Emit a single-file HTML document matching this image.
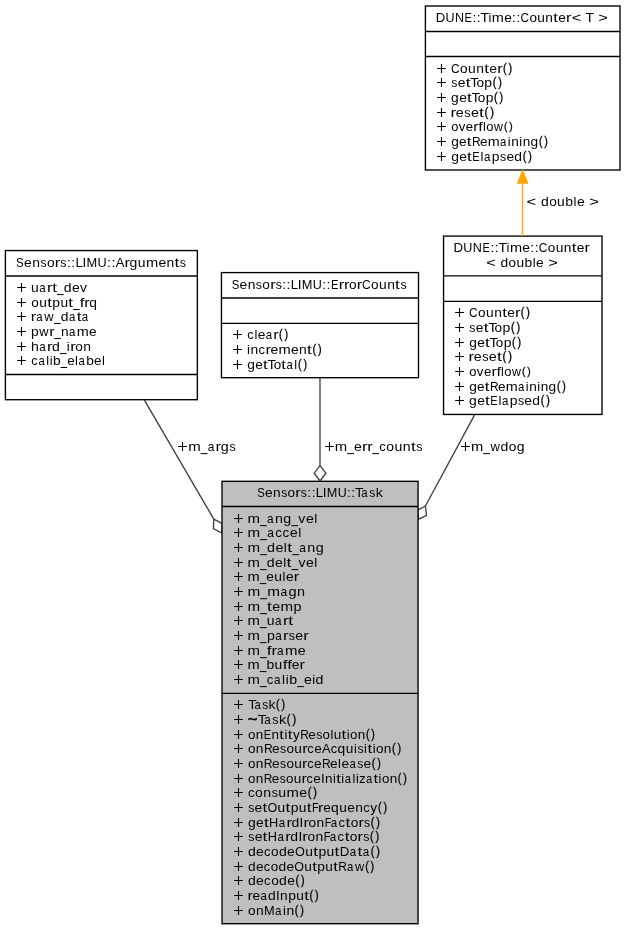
<!DOCTYPE html>
<html><head><meta charset="utf-8">
<style>
html,body{margin:0;padding:0;background:#fff;}
body{width:625px;height:931px;overflow:hidden;}
svg{display:block;will-change:transform;}
text{font-family:"Liberation Sans",sans-serif;font-size:13.2px;fill:#000;}
text.b{stroke:#000;stroke-width:0.35px;}
</style></head>
<body>
<svg width="625" height="931" viewBox="0 0 625 931">
<rect x="0" y="0" width="625" height="931" fill="#fff"/>
<polyline points="144.4,400.2 213.8,519.1" fill="none" stroke="#404040" stroke-width="1.35"/>
<polygon points="213.8,519.1 222.1,523.5 221.7,533 213.4,528.5" fill="#fff" stroke="#404040" stroke-width="1.35"/>
<line x1="320" y1="377.7" x2="320" y2="465.6" stroke="#404040" stroke-width="1.35"/>
<polygon points="320,465.6 325.9,473.2 320,481 314.2,473.2" fill="#fff" stroke="#404040" stroke-width="1.35"/>
<polyline points="474.6,414.9 425.4,506" fill="none" stroke="#404040" stroke-width="1.35"/>
<polygon points="425.4,506 426.5,515.3 418.3,519.4 417.9,510" fill="#fff" stroke="#404040" stroke-width="1.35"/>
<rect x="425.40" y="6.00" width="194.60" height="164.00" fill="#ffffff" stroke="#000" stroke-width="1.35"/>
<line x1="425.40" y1="31.50" x2="620.00" y2="31.50" stroke="#000" stroke-width="1.35"/>
<line x1="425.40" y1="56.50" x2="620.00" y2="56.50" stroke="#000" stroke-width="1.35"/>
<rect x="5.40" y="250.55" width="191.95" height="149.15" fill="#ffffff" stroke="#000" stroke-width="1.35"/>
<line x1="5.40" y1="276.00" x2="197.35" y2="276.00" stroke="#000" stroke-width="1.35"/>
<line x1="5.40" y1="374.50" x2="197.35" y2="374.50" stroke="#000" stroke-width="1.35"/>
<rect x="221.45" y="272.60" width="197.05" height="105.10" fill="#ffffff" stroke="#000" stroke-width="1.35"/>
<line x1="221.45" y1="298.00" x2="418.50" y2="298.00" stroke="#000" stroke-width="1.35"/>
<line x1="221.45" y1="323.30" x2="418.50" y2="323.30" stroke="#000" stroke-width="1.35"/>
<rect x="443.55" y="236.10" width="158.45" height="178.35" fill="#ffffff" stroke="#000" stroke-width="1.35"/>
<line x1="443.55" y1="275.80" x2="602.00" y2="275.80" stroke="#000" stroke-width="1.35"/>
<line x1="443.55" y1="301.35" x2="602.00" y2="301.35" stroke="#000" stroke-width="1.35"/>
<rect x="222.00" y="481.30" width="196.05" height="442.40" fill="#bfbfbf" stroke="#000" stroke-width="1.35"/>
<line x1="222.00" y1="506.50" x2="418.05" y2="506.50" stroke="#000" stroke-width="1.35"/>
<line x1="222.00" y1="693.35" x2="418.05" y2="693.35" stroke="#000" stroke-width="1.35"/>
<line x1="522.5" y1="236.1" x2="522.5" y2="183.4" stroke="#ffa500" stroke-width="1.35"/>
<polygon points="517.1,183.6 528.1,183.6 522.6,169.4" fill="#ffa500" stroke="#ffa500" stroke-width="0.5"/>
<text transform="translate(440.69,22.00) scale(0.996,1.000)" x="-4.99">D</text>
<text transform="translate(449.99,22.00) scale(0.946,1.000)" x="-4.77">U</text>
<text transform="translate(459.40,22.00) scale(0.951,1.000)" x="-4.77">N</text>
<text transform="translate(468.38,22.00) scale(0.834,1.000)" x="-4.66">E</text>
<text transform="translate(474.32,22.00) scale(1.042,1.000)" x="-1.83">:</text>
<text transform="translate(478.61,22.00) scale(1.042,1.000)" x="-1.83">:</text>
<text transform="translate(484.63,22.00) scale(1.050,1.000)" x="-4.03">T</text>
<text transform="translate(489.89,22.00) scale(0.984,1.000)" x="-1.46">i</text>
<text transform="translate(497.88,22.00) scale(1.097,1.000)" x="-5.50">m</text>
<text transform="translate(507.95,22.00) scale(1.040,1.000)" x="-3.66">e</text>
<text transform="translate(513.99,22.00) scale(1.042,1.000)" x="-1.83">:</text>
<text transform="translate(518.28,22.00) scale(1.042,1.000)" x="-1.83">:</text>
<text transform="translate(524.86,22.00) scale(0.894,1.000)" x="-4.85">C</text>
<text transform="translate(533.18,22.00) scale(1.024,1.000)" x="-3.67">o</text>
<text transform="translate(541.05,22.00) scale(1.038,1.000)" x="-3.66">u</text>
<text transform="translate(549.18,22.00) scale(1.038,1.000)" x="-3.68">n</text>
<text transform="translate(555.69,22.00) scale(1.287,1.000)" x="-1.89">t</text>
<text transform="translate(562.08,22.00) scale(1.040,1.000)" x="-3.66">e</text>
<text transform="translate(569.17,22.00) scale(1.234,1.000)" x="-2.53">r</text>
<text transform="translate(576.53,22.00) scale(1.241,1.000)" x="-3.86">&lt;</text>
<text transform="translate(589.78,22.00) scale(1.050,1.000)" x="-4.03">T</text>
<text transform="translate(603.02,22.00) scale(1.241,1.000)" x="-3.86">&gt;</text>
<text transform="translate(455.49,73.00) scale(0.906,1.000)" x="-4.85">C</text>
<text transform="translate(463.92,73.00) scale(1.037,1.000)" x="-3.67">o</text>
<text transform="translate(471.90,73.00) scale(1.052,1.000)" x="-3.66">u</text>
<text transform="translate(480.14,73.00) scale(1.052,1.000)" x="-3.68">n</text>
<text transform="translate(486.73,73.00) scale(1.304,1.000)" x="-1.89">t</text>
<text transform="translate(493.21,73.00) scale(1.054,1.000)" x="-3.66">e</text>
<text transform="translate(500.39,73.00) scale(1.250,1.000)" x="-2.53">r</text>
<text class="b" transform="translate(505.01,72.15) scale(0.825,0.933)" x="-2.57">(</text>
<text class="b" transform="translate(509.96,72.15) scale(0.825,0.933)" x="-1.83">)</text>
<text transform="translate(454.38,87.00) scale(0.930,1.000)" x="-3.25">s</text>
<text transform="translate(461.63,87.00) scale(1.048,1.000)" x="-3.66">e</text>
<text transform="translate(468.09,87.00) scale(1.297,1.000)" x="-1.89">t</text>
<text transform="translate(474.50,87.00) scale(1.059,1.000)" x="-4.03">T</text>
<text transform="translate(480.16,87.00) scale(1.032,1.000)" x="-3.67">o</text>
<text transform="translate(488.37,87.00) scale(1.056,1.000)" x="-3.82">p</text>
<text class="b" transform="translate(494.74,86.15) scale(0.820,0.928)" x="-2.57">(</text>
<text class="b" transform="translate(499.66,86.15) scale(0.820,0.928)" x="-1.83">)</text>
<text transform="translate(454.82,102.00) scale(1.052,1.000)" x="-3.52">g</text>
<text transform="translate(463.05,102.00) scale(1.045,1.000)" x="-3.66">e</text>
<text transform="translate(469.49,102.00) scale(1.293,1.000)" x="-1.89">t</text>
<text transform="translate(475.87,102.00) scale(1.056,1.000)" x="-4.03">T</text>
<text transform="translate(481.52,102.00) scale(1.029,1.000)" x="-3.67">o</text>
<text transform="translate(489.71,102.00) scale(1.053,1.000)" x="-3.82">p</text>
<text class="b" transform="translate(496.06,101.16) scale(0.818,0.925)" x="-2.57">(</text>
<text class="b" transform="translate(500.97,101.16) scale(0.818,0.925)" x="-1.83">)</text>
<text transform="translate(453.83,117.00) scale(1.291,1.000)" x="-2.53">r</text>
<text transform="translate(459.77,117.00) scale(1.088,1.000)" x="-3.66">e</text>
<text transform="translate(467.35,117.00) scale(0.966,1.000)" x="-3.25">s</text>
<text transform="translate(474.88,117.00) scale(1.088,1.000)" x="-3.66">e</text>
<text transform="translate(481.58,117.00) scale(1.346,1.000)" x="-1.89">t</text>
<text class="b" transform="translate(486.80,116.12) scale(0.851,0.963)" x="-2.57">(</text>
<text class="b" transform="translate(491.91,116.12) scale(0.851,0.963)" x="-1.83">)</text>
<text transform="translate(454.77,131.00) scale(0.985,1.000)" x="-3.67">o</text>
<text transform="translate(462.13,131.00) scale(1.000,1.000)" x="-3.30">v</text>
<text transform="translate(469.53,131.00) scale(1.001,1.000)" x="-3.66">e</text>
<text transform="translate(476.35,131.00) scale(1.188,1.000)" x="-2.53">r</text>
<text transform="translate(480.72,131.00) scale(1.217,1.000)" x="-1.94">f</text>
<text transform="translate(484.32,131.00) scale(0.947,1.000)" x="-1.47">l</text>
<text transform="translate(489.76,131.00) scale(0.985,1.000)" x="-3.67">o</text>
<text transform="translate(498.50,131.00) scale(0.937,1.000)" x="-4.77">w</text>
<text class="b" transform="translate(505.93,130.19) scale(0.783,0.886)" x="-2.57">(</text>
<text class="b" transform="translate(510.63,130.19) scale(0.783,0.886)" x="-1.83">)</text>
<text transform="translate(454.77,146.00) scale(1.036,1.000)" x="-3.52">g</text>
<text transform="translate(462.87,146.00) scale(1.029,1.000)" x="-3.66">e</text>
<text transform="translate(469.22,146.00) scale(1.274,1.000)" x="-1.89">t</text>
<text transform="translate(476.47,146.00) scale(0.912,1.000)" x="-5.00">R</text>
<text transform="translate(483.72,146.00) scale(1.029,1.000)" x="-3.66">e</text>
<text transform="translate(493.74,146.00) scale(1.086,1.000)" x="-5.50">m</text>
<text transform="translate(503.49,146.00) scale(0.857,1.000)" x="-3.95">a</text>
<text transform="translate(509.29,146.00) scale(0.974,1.000)" x="-1.46">i</text>
<text transform="translate(515.06,146.00) scale(1.028,1.000)" x="-3.68">n</text>
<text transform="translate(520.76,146.00) scale(0.974,1.000)" x="-1.46">i</text>
<text transform="translate(526.53,146.00) scale(1.028,1.000)" x="-3.68">n</text>
<text transform="translate(534.25,146.00) scale(1.036,1.000)" x="-3.52">g</text>
<text class="b" transform="translate(540.96,145.17) scale(0.806,0.911)" x="-2.57">(</text>
<text class="b" transform="translate(545.79,145.17) scale(0.806,0.911)" x="-1.83">)</text>
<text transform="translate(454.83,161.00) scale(1.054,1.000)" x="-3.52">g</text>
<text transform="translate(463.07,161.00) scale(1.048,1.000)" x="-3.66">e</text>
<text transform="translate(469.53,161.00) scale(1.296,1.000)" x="-1.89">t</text>
<text transform="translate(476.28,161.00) scale(0.841,1.000)" x="-4.66">E</text>
<text transform="translate(481.89,161.00) scale(0.991,1.000)" x="-1.47">l</text>
<text transform="translate(487.39,161.00) scale(0.872,1.000)" x="-3.95">a</text>
<text transform="translate(495.80,161.00) scale(1.055,1.000)" x="-3.82">p</text>
<text transform="translate(503.01,161.00) scale(0.930,1.000)" x="-3.25">s</text>
<text transform="translate(510.26,161.00) scale(1.048,1.000)" x="-3.66">e</text>
<text transform="translate(518.02,161.00) scale(1.054,1.000)" x="-3.52">d</text>
<text class="b" transform="translate(524.85,160.15) scale(0.820,0.927)" x="-2.57">(</text>
<text class="b" transform="translate(529.77,160.15) scale(0.820,0.927)" x="-1.83">)</text>
<text transform="translate(19.91,267.00) scale(0.871,1.000)" x="-4.40">S</text>
<text transform="translate(27.91,267.00) scale(1.055,1.000)" x="-3.66">e</text>
<text transform="translate(35.99,267.00) scale(1.053,1.000)" x="-3.68">n</text>
<text transform="translate(43.42,267.00) scale(0.936,1.000)" x="-3.25">s</text>
<text transform="translate(50.69,267.00) scale(1.038,1.000)" x="-3.67">o</text>
<text transform="translate(57.87,267.00) scale(1.251,1.000)" x="-2.53">r</text>
<text transform="translate(63.33,267.00) scale(0.936,1.000)" x="-3.25">s</text>
<text transform="translate(68.82,267.00) scale(1.057,1.000)" x="-1.83">:</text>
<text transform="translate(73.17,267.00) scale(1.057,1.000)" x="-1.83">:</text>
<text transform="translate(79.52,267.00) scale(1.005,1.000)" x="-3.99">L</text>
<text transform="translate(84.42,267.00) scale(1.033,1.000)" x="-1.83">I</text>
<text transform="translate(91.88,267.00) scale(0.974,1.000)" x="-5.50">M</text>
<text transform="translate(102.16,267.00) scale(0.960,1.000)" x="-4.77">U</text>
<text transform="translate(109.05,267.00) scale(1.057,1.000)" x="-1.83">:</text>
<text transform="translate(113.39,267.00) scale(1.057,1.000)" x="-1.83">:</text>
<text transform="translate(119.97,267.00) scale(0.984,1.000)" x="-4.40">A</text>
<text transform="translate(127.61,267.00) scale(1.251,1.000)" x="-2.53">r</text>
<text transform="translate(133.31,267.00) scale(1.061,1.000)" x="-3.52">g</text>
<text transform="translate(141.68,267.00) scale(1.053,1.000)" x="-3.66">u</text>
<text transform="translate(152.12,267.00) scale(1.113,1.000)" x="-5.50">m</text>
<text transform="translate(162.34,267.00) scale(1.055,1.000)" x="-3.66">e</text>
<text transform="translate(170.41,267.00) scale(1.053,1.000)" x="-3.68">n</text>
<text transform="translate(177.01,267.00) scale(1.305,1.000)" x="-1.89">t</text>
<text transform="translate(182.91,267.00) scale(0.936,1.000)" x="-3.25">s</text>
<text transform="translate(34.84,292.00) scale(1.050,1.000)" x="-3.66">u</text>
<text transform="translate(42.70,292.00) scale(0.876,1.000)" x="-3.95">a</text>
<text transform="translate(50.07,292.00) scale(1.248,1.000)" x="-2.53">r</text>
<text transform="translate(54.67,292.00) scale(1.302,1.000)" x="-1.89">t</text>
<text transform="translate(67.45,292.00) scale(1.059,1.000)" x="-3.52">d</text>
<text transform="translate(75.73,292.00) scale(1.052,1.000)" x="-3.66">e</text>
<text transform="translate(83.48,292.00) scale(1.051,1.000)" x="-3.30">v</text>
<text transform="translate(35.10,307.00) scale(1.027,1.000)" x="-3.67">o</text>
<text transform="translate(43.01,307.00) scale(1.042,1.000)" x="-3.66">u</text>
<text transform="translate(49.61,307.00) scale(1.292,1.000)" x="-1.89">t</text>
<text transform="translate(56.37,307.00) scale(1.051,1.000)" x="-3.82">p</text>
<text transform="translate(64.19,307.00) scale(1.042,1.000)" x="-3.66">u</text>
<text transform="translate(70.79,307.00) scale(1.292,1.000)" x="-1.89">t</text>
<text transform="translate(82.16,307.00) scale(1.269,1.000)" x="-1.94">f</text>
<text transform="translate(87.34,307.00) scale(1.238,1.000)" x="-2.53">r</text>
<text transform="translate(92.98,307.00) scale(1.049,1.000)" x="-3.53">q</text>
<text transform="translate(33.94,321.00) scale(1.238,1.000)" x="-2.53">r</text>
<text transform="translate(39.70,321.00) scale(0.869,1.000)" x="-3.95">a</text>
<text transform="translate(49.02,321.00) scale(0.977,1.000)" x="-4.77">w</text>
<text transform="translate(64.44,321.00) scale(1.051,1.000)" x="-3.52">d</text>
<text transform="translate(72.43,321.00) scale(0.869,1.000)" x="-3.95">a</text>
<text transform="translate(79.06,321.00) scale(1.292,1.000)" x="-1.89">t</text>
<text transform="translate(85.25,321.00) scale(0.869,1.000)" x="-3.95">a</text>
<text transform="translate(35.01,336.00) scale(1.047,1.000)" x="-3.82">p</text>
<text transform="translate(44.00,336.00) scale(0.972,1.000)" x="-4.77">w</text>
<text transform="translate(52.38,336.00) scale(1.233,1.000)" x="-2.53">r</text>
<text transform="translate(64.82,336.00) scale(1.037,1.000)" x="-3.68">n</text>
<text transform="translate(72.51,336.00) scale(0.865,1.000)" x="-3.95">a</text>
<text transform="translate(82.82,336.00) scale(1.096,1.000)" x="-5.50">m</text>
<text transform="translate(92.88,336.00) scale(1.039,1.000)" x="-3.66">e</text>
<text transform="translate(34.85,351.00) scale(1.061,1.000)" x="-3.70">h</text>
<text transform="translate(42.66,351.00) scale(0.879,1.000)" x="-3.95">a</text>
<text transform="translate(50.05,351.00) scale(1.252,1.000)" x="-2.53">r</text>
<text transform="translate(55.75,351.00) scale(1.062,1.000)" x="-3.52">d</text>
<text transform="translate(68.32,351.00) scale(0.999,1.000)" x="-1.46">i</text>
<text transform="translate(73.35,351.00) scale(1.252,1.000)" x="-2.53">r</text>
<text transform="translate(79.08,351.00) scale(1.039,1.000)" x="-3.67">o</text>
<text transform="translate(87.15,351.00) scale(1.054,1.000)" x="-3.68">n</text>
<text transform="translate(34.62,365.00) scale(0.955,1.000)" x="-3.41">c</text>
<text transform="translate(41.77,365.00) scale(0.856,1.000)" x="-3.95">a</text>
<text transform="translate(47.56,365.00) scale(0.973,1.000)" x="-1.47">l</text>
<text transform="translate(51.06,365.00) scale(0.973,1.000)" x="-1.46">i</text>
<text transform="translate(57.01,365.00) scale(1.036,1.000)" x="-3.82">b</text>
<text transform="translate(70.93,365.00) scale(1.028,1.000)" x="-3.66">e</text>
<text transform="translate(76.54,365.00) scale(0.973,1.000)" x="-1.47">l</text>
<text transform="translate(81.94,365.00) scale(0.856,1.000)" x="-3.95">a</text>
<text transform="translate(90.19,365.00) scale(1.036,1.000)" x="-3.82">b</text>
<text transform="translate(97.83,365.00) scale(1.028,1.000)" x="-3.66">e</text>
<text transform="translate(103.44,365.00) scale(0.973,1.000)" x="-1.47">l</text>
<text transform="translate(235.49,289.00) scale(0.866,1.000)" x="-4.40">S</text>
<text transform="translate(243.46,289.00) scale(1.050,1.000)" x="-3.66">e</text>
<text transform="translate(251.49,289.00) scale(1.048,1.000)" x="-3.68">n</text>
<text transform="translate(258.90,289.00) scale(0.932,1.000)" x="-3.25">s</text>
<text transform="translate(266.13,289.00) scale(1.033,1.000)" x="-3.67">o</text>
<text transform="translate(273.27,289.00) scale(1.245,1.000)" x="-2.53">r</text>
<text transform="translate(278.70,289.00) scale(0.932,1.000)" x="-3.25">s</text>
<text transform="translate(284.17,289.00) scale(1.052,1.000)" x="-1.83">:</text>
<text transform="translate(288.49,289.00) scale(1.052,1.000)" x="-1.83">:</text>
<text transform="translate(294.82,289.00) scale(1.000,1.000)" x="-3.99">L</text>
<text transform="translate(299.69,289.00) scale(1.028,1.000)" x="-1.83">I</text>
<text transform="translate(307.12,289.00) scale(0.969,1.000)" x="-5.50">M</text>
<text transform="translate(317.34,289.00) scale(0.955,1.000)" x="-4.77">U</text>
<text transform="translate(324.20,289.00) scale(1.052,1.000)" x="-1.83">:</text>
<text transform="translate(328.52,289.00) scale(1.052,1.000)" x="-1.83">:</text>
<text transform="translate(334.95,289.00) scale(0.842,1.000)" x="-4.66">E</text>
<text transform="translate(342.01,289.00) scale(1.245,1.000)" x="-2.53">r</text>
<text transform="translate(347.05,289.00) scale(1.245,1.000)" x="-2.53">r</text>
<text transform="translate(352.75,289.00) scale(1.033,1.000)" x="-3.67">o</text>
<text transform="translate(359.89,289.00) scale(1.245,1.000)" x="-2.53">r</text>
<text transform="translate(366.44,289.00) scale(0.902,1.000)" x="-4.85">C</text>
<text transform="translate(374.83,289.00) scale(1.033,1.000)" x="-3.67">o</text>
<text transform="translate(382.78,289.00) scale(1.048,1.000)" x="-3.66">u</text>
<text transform="translate(390.99,289.00) scale(1.048,1.000)" x="-3.68">n</text>
<text transform="translate(397.55,289.00) scale(1.299,1.000)" x="-1.89">t</text>
<text transform="translate(403.42,289.00) scale(0.932,1.000)" x="-3.25">s</text>
<text transform="translate(250.55,339.00) scale(0.967,1.000)" x="-3.41">c</text>
<text transform="translate(255.86,339.00) scale(0.985,1.000)" x="-1.47">l</text>
<text transform="translate(261.55,339.00) scale(1.041,1.000)" x="-3.66">e</text>
<text transform="translate(269.15,339.00) scale(0.866,1.000)" x="-3.95">a</text>
<text transform="translate(276.43,339.00) scale(1.234,1.000)" x="-2.53">r</text>
<text class="b" transform="translate(280.99,338.16) scale(0.814,0.921)" x="-2.57">(</text>
<text class="b" transform="translate(285.87,338.16) scale(0.814,0.921)" x="-1.83">)</text>
<text transform="translate(248.38,354.00) scale(0.996,1.000)" x="-1.46">i</text>
<text transform="translate(254.28,354.00) scale(1.051,1.000)" x="-3.68">n</text>
<text transform="translate(261.81,354.00) scale(0.978,1.000)" x="-3.41">c</text>
<text transform="translate(268.62,354.00) scale(1.249,1.000)" x="-2.53">r</text>
<text transform="translate(274.37,354.00) scale(1.053,1.000)" x="-3.66">e</text>
<text transform="translate(284.62,354.00) scale(1.111,1.000)" x="-5.50">m</text>
<text transform="translate(294.82,354.00) scale(1.053,1.000)" x="-3.66">e</text>
<text transform="translate(302.88,354.00) scale(1.051,1.000)" x="-3.68">n</text>
<text transform="translate(309.46,354.00) scale(1.303,1.000)" x="-1.89">t</text>
<text class="b" transform="translate(314.51,353.15) scale(0.824,0.932)" x="-2.57">(</text>
<text class="b" transform="translate(319.46,353.15) scale(0.824,0.932)" x="-1.83">)</text>
<text transform="translate(250.90,369.00) scale(1.043,1.000)" x="-3.52">g</text>
<text transform="translate(259.05,369.00) scale(1.037,1.000)" x="-3.66">e</text>
<text transform="translate(265.44,369.00) scale(1.283,1.000)" x="-1.89">t</text>
<text transform="translate(271.78,369.00) scale(1.047,1.000)" x="-4.03">T</text>
<text transform="translate(277.37,369.00) scale(1.021,1.000)" x="-3.67">o</text>
<text transform="translate(283.75,369.00) scale(1.283,1.000)" x="-1.89">t</text>
<text transform="translate(289.90,369.00) scale(0.863,1.000)" x="-3.95">a</text>
<text transform="translate(295.74,369.00) scale(0.981,1.000)" x="-1.47">l</text>
<text class="b" transform="translate(300.01,368.16) scale(0.811,0.918)" x="-2.57">(</text>
<text class="b" transform="translate(304.88,368.16) scale(0.811,0.918)" x="-1.83">)</text>
<text transform="translate(458.52,252.00) scale(1.002,1.000)" x="-4.99">D</text>
<text transform="translate(467.87,252.00) scale(0.952,1.000)" x="-4.77">U</text>
<text transform="translate(477.33,252.00) scale(0.957,1.000)" x="-4.77">N</text>
<text transform="translate(486.37,252.00) scale(0.839,1.000)" x="-4.66">E</text>
<text transform="translate(492.35,252.00) scale(1.048,1.000)" x="-1.83">:</text>
<text transform="translate(496.65,252.00) scale(1.048,1.000)" x="-1.83">:</text>
<text transform="translate(502.71,252.00) scale(1.056,1.000)" x="-4.03">T</text>
<text transform="translate(508.00,252.00) scale(0.990,1.000)" x="-1.46">i</text>
<text transform="translate(516.04,252.00) scale(1.104,1.000)" x="-5.50">m</text>
<text transform="translate(526.17,252.00) scale(1.046,1.000)" x="-3.66">e</text>
<text transform="translate(532.25,252.00) scale(1.048,1.000)" x="-1.83">:</text>
<text transform="translate(536.56,252.00) scale(1.048,1.000)" x="-1.83">:</text>
<text transform="translate(543.19,252.00) scale(0.899,1.000)" x="-4.85">C</text>
<text transform="translate(551.55,252.00) scale(1.030,1.000)" x="-3.67">o</text>
<text transform="translate(559.47,252.00) scale(1.044,1.000)" x="-3.66">u</text>
<text transform="translate(567.65,252.00) scale(1.044,1.000)" x="-3.68">n</text>
<text transform="translate(574.19,252.00) scale(1.295,1.000)" x="-1.89">t</text>
<text transform="translate(580.62,252.00) scale(1.046,1.000)" x="-3.66">e</text>
<text transform="translate(587.75,252.00) scale(1.241,1.000)" x="-2.53">r</text>
<text transform="translate(490.98,267.00) scale(1.242,1.000)" x="-3.86">&lt;</text>
<text transform="translate(504.17,267.00) scale(1.048,1.000)" x="-3.52">d</text>
<text transform="translate(512.34,267.00) scale(1.025,1.000)" x="-3.67">o</text>
<text transform="translate(520.22,267.00) scale(1.040,1.000)" x="-3.66">u</text>
<text transform="translate(528.56,267.00) scale(1.049,1.000)" x="-3.82">b</text>
<text transform="translate(534.14,267.00) scale(0.986,1.000)" x="-1.47">l</text>
<text transform="translate(539.84,267.00) scale(1.041,1.000)" x="-3.66">e</text>
<text transform="translate(553.12,267.00) scale(1.242,1.000)" x="-3.86">&gt;</text>
<text transform="translate(473.47,317.00) scale(0.903,1.000)" x="-4.85">C</text>
<text transform="translate(481.87,317.00) scale(1.034,1.000)" x="-3.67">o</text>
<text transform="translate(489.83,317.00) scale(1.049,1.000)" x="-3.66">u</text>
<text transform="translate(498.04,317.00) scale(1.049,1.000)" x="-3.68">n</text>
<text transform="translate(504.61,317.00) scale(1.300,1.000)" x="-1.89">t</text>
<text transform="translate(511.07,317.00) scale(1.051,1.000)" x="-3.66">e</text>
<text transform="translate(518.23,317.00) scale(1.246,1.000)" x="-2.53">r</text>
<text class="b" transform="translate(522.83,316.15) scale(0.822,0.930)" x="-2.57">(</text>
<text class="b" transform="translate(527.76,316.15) scale(0.822,0.930)" x="-1.83">)</text>
<text transform="translate(472.40,332.00) scale(0.938,1.000)" x="-3.25">s</text>
<text transform="translate(479.71,332.00) scale(1.057,1.000)" x="-3.66">e</text>
<text transform="translate(486.23,332.00) scale(1.308,1.000)" x="-1.89">t</text>
<text transform="translate(492.68,332.00) scale(1.067,1.000)" x="-4.03">T</text>
<text transform="translate(498.39,332.00) scale(1.040,1.000)" x="-3.67">o</text>
<text transform="translate(506.67,332.00) scale(1.064,1.000)" x="-3.82">p</text>
<text class="b" transform="translate(513.09,331.15) scale(0.827,0.935)" x="-2.57">(</text>
<text class="b" transform="translate(518.05,331.15) scale(0.827,0.935)" x="-1.83">)</text>
<text transform="translate(472.82,347.00) scale(1.050,1.000)" x="-3.52">g</text>
<text transform="translate(481.02,347.00) scale(1.043,1.000)" x="-3.66">e</text>
<text transform="translate(487.45,347.00) scale(1.291,1.000)" x="-1.89">t</text>
<text transform="translate(493.83,347.00) scale(1.053,1.000)" x="-4.03">T</text>
<text transform="translate(499.46,347.00) scale(1.027,1.000)" x="-3.67">o</text>
<text transform="translate(507.63,347.00) scale(1.051,1.000)" x="-3.82">p</text>
<text class="b" transform="translate(513.97,346.16) scale(0.816,0.923)" x="-2.57">(</text>
<text class="b" transform="translate(518.87,346.16) scale(0.816,0.923)" x="-1.83">)</text>
<text transform="translate(471.82,361.00) scale(1.287,1.000)" x="-2.53">r</text>
<text transform="translate(477.75,361.00) scale(1.085,1.000)" x="-3.66">e</text>
<text transform="translate(485.31,361.00) scale(0.963,1.000)" x="-3.25">s</text>
<text transform="translate(492.82,361.00) scale(1.085,1.000)" x="-3.66">e</text>
<text transform="translate(499.51,361.00) scale(1.343,1.000)" x="-1.89">t</text>
<text class="b" transform="translate(504.72,360.12) scale(0.849,0.961)" x="-2.57">(</text>
<text class="b" transform="translate(509.81,360.12) scale(0.849,0.961)" x="-1.83">)</text>
<text transform="translate(472.78,376.00) scale(0.987,1.000)" x="-3.67">o</text>
<text transform="translate(480.15,376.00) scale(1.002,1.000)" x="-3.30">v</text>
<text transform="translate(487.56,376.00) scale(1.003,1.000)" x="-3.66">e</text>
<text transform="translate(494.39,376.00) scale(1.189,1.000)" x="-2.53">r</text>
<text transform="translate(498.77,376.00) scale(1.219,1.000)" x="-1.94">f</text>
<text transform="translate(502.37,376.00) scale(0.949,1.000)" x="-1.47">l</text>
<text transform="translate(507.82,376.00) scale(0.987,1.000)" x="-3.67">o</text>
<text transform="translate(516.58,376.00) scale(0.938,1.000)" x="-4.77">w</text>
<text class="b" transform="translate(524.02,375.19) scale(0.785,0.888)" x="-2.57">(</text>
<text class="b" transform="translate(528.73,375.19) scale(0.785,0.888)" x="-1.83">)</text>
<text transform="translate(472.77,391.00) scale(1.036,1.000)" x="-3.52">g</text>
<text transform="translate(480.87,391.00) scale(1.029,1.000)" x="-3.66">e</text>
<text transform="translate(487.22,391.00) scale(1.274,1.000)" x="-1.89">t</text>
<text transform="translate(494.47,391.00) scale(0.912,1.000)" x="-5.00">R</text>
<text transform="translate(501.72,391.00) scale(1.029,1.000)" x="-3.66">e</text>
<text transform="translate(511.74,391.00) scale(1.086,1.000)" x="-5.50">m</text>
<text transform="translate(521.49,391.00) scale(0.857,1.000)" x="-3.95">a</text>
<text transform="translate(527.29,391.00) scale(0.974,1.000)" x="-1.46">i</text>
<text transform="translate(533.06,391.00) scale(1.028,1.000)" x="-3.68">n</text>
<text transform="translate(538.76,391.00) scale(0.974,1.000)" x="-1.46">i</text>
<text transform="translate(544.53,391.00) scale(1.028,1.000)" x="-3.68">n</text>
<text transform="translate(552.25,391.00) scale(1.036,1.000)" x="-3.52">g</text>
<text class="b" transform="translate(558.96,390.17) scale(0.806,0.911)" x="-2.57">(</text>
<text class="b" transform="translate(563.79,390.17) scale(0.806,0.911)" x="-1.83">)</text>
<text transform="translate(472.82,405.00) scale(1.053,1.000)" x="-3.52">g</text>
<text transform="translate(481.06,405.00) scale(1.046,1.000)" x="-3.66">e</text>
<text transform="translate(487.50,405.00) scale(1.295,1.000)" x="-1.89">t</text>
<text transform="translate(494.25,405.00) scale(0.840,1.000)" x="-4.66">E</text>
<text transform="translate(499.85,405.00) scale(0.990,1.000)" x="-1.47">l</text>
<text transform="translate(505.34,405.00) scale(0.871,1.000)" x="-3.95">a</text>
<text transform="translate(513.75,405.00) scale(1.054,1.000)" x="-3.82">p</text>
<text transform="translate(520.94,405.00) scale(0.929,1.000)" x="-3.25">s</text>
<text transform="translate(528.18,405.00) scale(1.046,1.000)" x="-3.66">e</text>
<text transform="translate(535.94,405.00) scale(1.053,1.000)" x="-3.52">d</text>
<text class="b" transform="translate(542.75,404.16) scale(0.819,0.926)" x="-2.57">(</text>
<text class="b" transform="translate(547.67,404.16) scale(0.819,0.926)" x="-1.83">)</text>
<text transform="translate(260.96,497.00) scale(0.859,1.000)" x="-4.40">S</text>
<text transform="translate(268.86,497.00) scale(1.041,1.000)" x="-3.66">e</text>
<text transform="translate(276.83,497.00) scale(1.039,1.000)" x="-3.68">n</text>
<text transform="translate(284.18,497.00) scale(0.924,1.000)" x="-3.25">s</text>
<text transform="translate(291.35,497.00) scale(1.025,1.000)" x="-3.67">o</text>
<text transform="translate(298.44,497.00) scale(1.235,1.000)" x="-2.53">r</text>
<text transform="translate(303.82,497.00) scale(0.924,1.000)" x="-3.25">s</text>
<text transform="translate(309.25,497.00) scale(1.043,1.000)" x="-1.83">:</text>
<text transform="translate(313.53,497.00) scale(1.043,1.000)" x="-1.83">:</text>
<text transform="translate(319.81,497.00) scale(0.992,1.000)" x="-3.99">L</text>
<text transform="translate(324.64,497.00) scale(1.019,1.000)" x="-1.83">I</text>
<text transform="translate(332.01,497.00) scale(0.961,1.000)" x="-5.50">M</text>
<text transform="translate(342.15,497.00) scale(0.947,1.000)" x="-4.77">U</text>
<text transform="translate(348.95,497.00) scale(1.043,1.000)" x="-1.83">:</text>
<text transform="translate(353.24,497.00) scale(1.043,1.000)" x="-1.83">:</text>
<text transform="translate(359.26,497.00) scale(1.051,1.000)" x="-4.03">T</text>
<text transform="translate(364.75,497.00) scale(0.867,1.000)" x="-3.95">a</text>
<text transform="translate(372.19,497.00) scale(0.924,1.000)" x="-3.25">s</text>
<text transform="translate(379.71,497.00) scale(1.078,1.000)" x="-3.75">k</text>
<text transform="translate(253.75,523.00) scale(1.135,1.000)" x="-5.50">m</text>
<text transform="translate(270.52,523.00) scale(0.896,1.000)" x="-3.95">a</text>
<text transform="translate(278.96,523.00) scale(1.074,1.000)" x="-3.68">n</text>
<text transform="translate(287.02,523.00) scale(1.083,1.000)" x="-3.52">g</text>
<text transform="translate(301.90,523.00) scale(1.075,1.000)" x="-3.30">v</text>
<text transform="translate(309.85,523.00) scale(1.076,1.000)" x="-3.66">e</text>
<text transform="translate(315.71,523.00) scale(1.018,1.000)" x="-1.47">l</text>
<text transform="translate(253.81,537.00) scale(1.148,1.000)" x="-5.50">m</text>
<text transform="translate(270.77,537.00) scale(0.906,1.000)" x="-3.95">a</text>
<text transform="translate(278.66,537.00) scale(1.011,1.000)" x="-3.41">c</text>
<text transform="translate(285.97,537.00) scale(1.011,1.000)" x="-3.41">c</text>
<text transform="translate(293.77,537.00) scale(1.088,1.000)" x="-3.66">e</text>
<text transform="translate(299.70,537.00) scale(1.030,1.000)" x="-1.47">l</text>
<text transform="translate(253.79,552.00) scale(1.145,1.000)" x="-5.50">m</text>
<text transform="translate(270.82,552.00) scale(1.092,1.000)" x="-3.52">d</text>
<text transform="translate(279.36,552.00) scale(1.085,1.000)" x="-3.66">e</text>
<text transform="translate(285.28,552.00) scale(1.027,1.000)" x="-1.47">l</text>
<text transform="translate(289.74,552.00) scale(1.343,1.000)" x="-1.89">t</text>
<text transform="translate(302.81,552.00) scale(0.904,1.000)" x="-3.95">a</text>
<text transform="translate(311.32,552.00) scale(1.083,1.000)" x="-3.68">n</text>
<text transform="translate(319.46,552.00) scale(1.092,1.000)" x="-3.52">g</text>
<text transform="translate(253.71,567.00) scale(1.127,1.000)" x="-5.50">m</text>
<text transform="translate(270.47,567.00) scale(1.075,1.000)" x="-3.52">d</text>
<text transform="translate(278.87,567.00) scale(1.068,1.000)" x="-3.66">e</text>
<text transform="translate(284.69,567.00) scale(1.011,1.000)" x="-1.47">l</text>
<text transform="translate(289.08,567.00) scale(1.322,1.000)" x="-1.89">t</text>
<text transform="translate(302.00,567.00) scale(1.067,1.000)" x="-3.30">v</text>
<text transform="translate(309.89,567.00) scale(1.068,1.000)" x="-3.66">e</text>
<text transform="translate(315.71,567.00) scale(1.011,1.000)" x="-1.47">l</text>
<text transform="translate(253.62,581.00) scale(1.107,1.000)" x="-5.50">m</text>
<text transform="translate(270.20,581.00) scale(1.050,1.000)" x="-3.66">e</text>
<text transform="translate(278.17,581.00) scale(1.048,1.000)" x="-3.66">u</text>
<text transform="translate(284.05,581.00) scale(0.993,1.000)" x="-1.47">l</text>
<text transform="translate(289.79,581.00) scale(1.050,1.000)" x="-3.66">e</text>
<text transform="translate(296.95,581.00) scale(1.245,1.000)" x="-2.53">r</text>
<text transform="translate(253.85,596.00) scale(1.157,1.000)" x="-5.50">m</text>
<text transform="translate(273.62,596.00) scale(1.157,1.000)" x="-5.50">m</text>
<text transform="translate(284.01,596.00) scale(0.914,1.000)" x="-3.95">a</text>
<text transform="translate(292.35,596.00) scale(1.104,1.000)" x="-3.52">g</text>
<text transform="translate(301.13,596.00) scale(1.095,1.000)" x="-3.68">n</text>
<text transform="translate(253.81,611.00) scale(1.149,1.000)" x="-5.50">m</text>
<text transform="translate(269.54,611.00) scale(1.348,1.000)" x="-1.89">t</text>
<text transform="translate(276.23,611.00) scale(1.089,1.000)" x="-3.66">e</text>
<text transform="translate(286.84,611.00) scale(1.149,1.000)" x="-5.50">m</text>
<text transform="translate(297.74,611.00) scale(1.097,1.000)" x="-3.82">p</text>
<text transform="translate(253.71,625.00) scale(1.127,1.000)" x="-5.50">m</text>
<text transform="translate(270.65,625.00) scale(1.066,1.000)" x="-3.66">u</text>
<text transform="translate(278.63,625.00) scale(0.889,1.000)" x="-3.95">a</text>
<text transform="translate(286.10,625.00) scale(1.267,1.000)" x="-2.53">r</text>
<text transform="translate(290.77,625.00) scale(1.322,1.000)" x="-1.89">t</text>
<text transform="translate(253.73,640.00) scale(1.130,1.000)" x="-5.50">m</text>
<text transform="translate(271.01,640.00) scale(1.079,1.000)" x="-3.82">p</text>
<text transform="translate(278.74,640.00) scale(0.892,1.000)" x="-3.95">a</text>
<text transform="translate(286.24,640.00) scale(1.271,1.000)" x="-2.53">r</text>
<text transform="translate(291.78,640.00) scale(0.951,1.000)" x="-3.25">s</text>
<text transform="translate(299.20,640.00) scale(1.072,1.000)" x="-3.66">e</text>
<text transform="translate(306.50,640.00) scale(1.271,1.000)" x="-2.53">r</text>
<text transform="translate(253.76,655.00) scale(1.137,1.000)" x="-5.50">m</text>
<text transform="translate(269.32,655.00) scale(1.311,1.000)" x="-1.94">f</text>
<text transform="translate(274.67,655.00) scale(1.279,1.000)" x="-2.53">r</text>
<text transform="translate(280.62,655.00) scale(0.898,1.000)" x="-3.95">a</text>
<text transform="translate(291.32,655.00) scale(1.137,1.000)" x="-5.50">m</text>
<text transform="translate(301.76,655.00) scale(1.078,1.000)" x="-3.66">e</text>
<text transform="translate(253.63,669.00) scale(1.109,1.000)" x="-5.50">m</text>
<text transform="translate(270.58,669.00) scale(1.059,1.000)" x="-3.82">b</text>
<text transform="translate(278.46,669.00) scale(1.049,1.000)" x="-3.66">u</text>
<text transform="translate(285.10,669.00) scale(1.278,1.000)" x="-1.94">f</text>
<text transform="translate(289.62,669.00) scale(1.278,1.000)" x="-1.94">f</text>
<text transform="translate(295.58,669.00) scale(1.051,1.000)" x="-3.66">e</text>
<text transform="translate(302.74,669.00) scale(1.247,1.000)" x="-2.53">r</text>
<text transform="translate(253.71,684.00) scale(1.126,1.000)" x="-5.50">m</text>
<text transform="translate(270.08,684.00) scale(0.991,1.000)" x="-3.41">c</text>
<text transform="translate(277.51,684.00) scale(0.889,1.000)" x="-3.95">a</text>
<text transform="translate(283.52,684.00) scale(1.010,1.000)" x="-1.47">l</text>
<text transform="translate(287.15,684.00) scale(1.010,1.000)" x="-1.46">i</text>
<text transform="translate(293.33,684.00) scale(1.075,1.000)" x="-3.82">b</text>
<text transform="translate(307.78,684.00) scale(1.067,1.000)" x="-3.66">e</text>
<text transform="translate(313.60,684.00) scale(1.010,1.000)" x="-1.46">i</text>
<text transform="translate(319.31,684.00) scale(1.074,1.000)" x="-3.52">d</text>
<text transform="translate(252.38,709.00) scale(1.039,1.000)" x="-4.03">T</text>
<text transform="translate(257.79,709.00) scale(0.856,1.000)" x="-3.95">a</text>
<text transform="translate(265.15,709.00) scale(0.913,1.000)" x="-3.25">s</text>
<text transform="translate(272.58,709.00) scale(1.065,1.000)" x="-3.75">k</text>
<text class="b" transform="translate(278.16,708.17) scale(0.805,0.911)" x="-2.57">(</text>
<text class="b" transform="translate(282.99,708.17) scale(0.805,0.911)" x="-1.83">)</text>
<text class="b" transform="translate(252.60,725.47) scale(1.256,1.250)" x="-3.85">~</text>
<text transform="translate(262.07,724.00) scale(1.081,1.000)" x="-4.03">T</text>
<text transform="translate(267.71,724.00) scale(0.891,1.000)" x="-3.95">a</text>
<text transform="translate(275.36,724.00) scale(0.950,1.000)" x="-3.25">s</text>
<text transform="translate(283.10,724.00) scale(1.108,1.000)" x="-3.75">k</text>
<text class="b" transform="translate(288.91,723.14) scale(0.838,0.948)" x="-2.57">(</text>
<text class="b" transform="translate(293.93,723.14) scale(0.838,0.948)" x="-1.83">)</text>
<text transform="translate(251.65,739.00) scale(1.009,1.000)" x="-3.67">o</text>
<text transform="translate(259.48,739.00) scale(1.024,1.000)" x="-3.68">n</text>
<text transform="translate(267.59,739.00) scale(0.823,1.000)" x="-4.66">E</text>
<text transform="translate(275.35,739.00) scale(1.024,1.000)" x="-3.68">n</text>
<text transform="translate(281.76,739.00) scale(1.269,1.000)" x="-1.89">t</text>
<text transform="translate(285.94,739.00) scale(0.971,1.000)" x="-1.46">i</text>
<text transform="translate(290.15,739.00) scale(1.269,1.000)" x="-1.89">t</text>
<text transform="translate(296.30,739.00) scale(1.020,1.000)" x="-3.30">y</text>
<text transform="translate(304.80,739.00) scale(0.908,1.000)" x="-5.00">R</text>
<text transform="translate(312.02,739.00) scale(1.026,1.000)" x="-3.66">e</text>
<text transform="translate(319.16,739.00) scale(0.910,1.000)" x="-3.25">s</text>
<text transform="translate(326.23,739.00) scale(1.009,1.000)" x="-3.67">o</text>
<text transform="translate(331.81,739.00) scale(0.971,1.000)" x="-1.47">l</text>
<text transform="translate(337.48,739.00) scale(1.024,1.000)" x="-3.66">u</text>
<text transform="translate(343.97,739.00) scale(1.269,1.000)" x="-1.89">t</text>
<text transform="translate(348.15,739.00) scale(0.971,1.000)" x="-1.46">i</text>
<text transform="translate(353.72,739.00) scale(1.009,1.000)" x="-3.67">o</text>
<text transform="translate(361.56,739.00) scale(1.024,1.000)" x="-3.68">n</text>
<text class="b" transform="translate(367.98,738.17) scale(0.803,0.908)" x="-2.57">(</text>
<text class="b" transform="translate(372.80,738.17) scale(0.803,0.908)" x="-1.83">)</text>
<text transform="translate(251.69,753.00) scale(1.025,1.000)" x="-3.67">o</text>
<text transform="translate(259.65,753.00) scale(1.039,1.000)" x="-3.68">n</text>
<text transform="translate(268.51,753.00) scale(0.922,1.000)" x="-5.00">R</text>
<text transform="translate(275.84,753.00) scale(1.041,1.000)" x="-3.66">e</text>
<text transform="translate(283.09,753.00) scale(0.924,1.000)" x="-3.25">s</text>
<text transform="translate(290.26,753.00) scale(1.025,1.000)" x="-3.67">o</text>
<text transform="translate(298.15,753.00) scale(1.039,1.000)" x="-3.66">u</text>
<text transform="translate(305.41,753.00) scale(1.235,1.000)" x="-2.53">r</text>
<text transform="translate(310.62,753.00) scale(0.967,1.000)" x="-3.41">c</text>
<text transform="translate(318.09,753.00) scale(1.041,1.000)" x="-3.66">e</text>
<text transform="translate(326.34,753.00) scale(0.971,1.000)" x="-4.40">A</text>
<text transform="translate(333.92,753.00) scale(0.967,1.000)" x="-3.41">c</text>
<text transform="translate(341.27,753.00) scale(1.046,1.000)" x="-3.53">q</text>
<text transform="translate(349.53,753.00) scale(1.039,1.000)" x="-3.66">u</text>
<text transform="translate(355.37,753.00) scale(0.985,1.000)" x="-1.46">i</text>
<text transform="translate(360.48,753.00) scale(0.924,1.000)" x="-3.25">s</text>
<text transform="translate(365.53,753.00) scale(0.985,1.000)" x="-1.46">i</text>
<text transform="translate(369.81,753.00) scale(1.288,1.000)" x="-1.89">t</text>
<text transform="translate(374.06,753.00) scale(0.985,1.000)" x="-1.46">i</text>
<text transform="translate(379.71,753.00) scale(1.025,1.000)" x="-3.67">o</text>
<text transform="translate(387.67,753.00) scale(1.039,1.000)" x="-3.68">n</text>
<text class="b" transform="translate(394.19,752.16) scale(0.815,0.921)" x="-2.57">(</text>
<text class="b" transform="translate(399.07,752.16) scale(0.815,0.921)" x="-1.83">)</text>
<text transform="translate(251.68,768.00) scale(1.021,1.000)" x="-3.67">o</text>
<text transform="translate(259.61,768.00) scale(1.036,1.000)" x="-3.68">n</text>
<text transform="translate(268.44,768.00) scale(0.919,1.000)" x="-5.00">R</text>
<text transform="translate(275.75,768.00) scale(1.038,1.000)" x="-3.66">e</text>
<text transform="translate(282.98,768.00) scale(0.921,1.000)" x="-3.25">s</text>
<text transform="translate(290.13,768.00) scale(1.021,1.000)" x="-3.67">o</text>
<text transform="translate(297.98,768.00) scale(1.036,1.000)" x="-3.66">u</text>
<text transform="translate(305.22,768.00) scale(1.231,1.000)" x="-2.53">r</text>
<text transform="translate(310.42,768.00) scale(0.964,1.000)" x="-3.41">c</text>
<text transform="translate(317.86,768.00) scale(1.038,1.000)" x="-3.66">e</text>
<text transform="translate(326.59,768.00) scale(0.919,1.000)" x="-5.00">R</text>
<text transform="translate(333.90,768.00) scale(1.038,1.000)" x="-3.66">e</text>
<text transform="translate(339.56,768.00) scale(0.982,1.000)" x="-1.47">l</text>
<text transform="translate(345.23,768.00) scale(1.038,1.000)" x="-3.66">e</text>
<text transform="translate(352.81,768.00) scale(0.864,1.000)" x="-3.95">a</text>
<text transform="translate(360.22,768.00) scale(0.921,1.000)" x="-3.25">s</text>
<text transform="translate(367.41,768.00) scale(1.038,1.000)" x="-3.66">e</text>
<text class="b" transform="translate(373.81,767.16) scale(0.812,0.918)" x="-2.57">(</text>
<text class="b" transform="translate(378.68,767.16) scale(0.812,0.918)" x="-1.83">)</text>
<text transform="translate(251.65,783.00) scale(1.010,1.000)" x="-3.67">o</text>
<text transform="translate(259.49,783.00) scale(1.024,1.000)" x="-3.68">n</text>
<text transform="translate(268.22,783.00) scale(0.909,1.000)" x="-5.00">R</text>
<text transform="translate(275.45,783.00) scale(1.026,1.000)" x="-3.66">e</text>
<text transform="translate(282.59,783.00) scale(0.911,1.000)" x="-3.25">s</text>
<text transform="translate(289.66,783.00) scale(1.010,1.000)" x="-3.67">o</text>
<text transform="translate(297.43,783.00) scale(1.024,1.000)" x="-3.66">u</text>
<text transform="translate(304.59,783.00) scale(1.217,1.000)" x="-2.53">r</text>
<text transform="translate(309.73,783.00) scale(0.953,1.000)" x="-3.41">c</text>
<text transform="translate(317.08,783.00) scale(1.026,1.000)" x="-3.66">e</text>
<text transform="translate(322.78,783.00) scale(1.005,1.000)" x="-1.83">I</text>
<text transform="translate(328.64,783.00) scale(1.024,1.000)" x="-3.68">n</text>
<text transform="translate(334.32,783.00) scale(0.971,1.000)" x="-1.46">i</text>
<text transform="translate(338.53,783.00) scale(1.270,1.000)" x="-1.89">t</text>
<text transform="translate(342.72,783.00) scale(0.971,1.000)" x="-1.46">i</text>
<text transform="translate(348.11,783.00) scale(0.854,1.000)" x="-3.95">a</text>
<text transform="translate(353.89,783.00) scale(0.971,1.000)" x="-1.47">l</text>
<text transform="translate(357.37,783.00) scale(0.971,1.000)" x="-1.46">i</text>
<text transform="translate(362.40,783.00) scale(1.018,1.000)" x="-3.24">z</text>
<text transform="translate(369.34,783.00) scale(0.854,1.000)" x="-3.95">a</text>
<text transform="translate(375.85,783.00) scale(1.270,1.000)" x="-1.89">t</text>
<text transform="translate(380.04,783.00) scale(0.971,1.000)" x="-1.46">i</text>
<text transform="translate(385.61,783.00) scale(1.010,1.000)" x="-3.67">o</text>
<text transform="translate(393.46,783.00) scale(1.024,1.000)" x="-3.68">n</text>
<text class="b" transform="translate(399.88,782.17) scale(0.803,0.908)" x="-2.57">(</text>
<text class="b" transform="translate(404.69,782.17) scale(0.803,0.908)" x="-1.83">)</text>
<text transform="translate(251.33,797.00) scale(0.995,1.000)" x="-3.41">c</text>
<text transform="translate(258.98,797.00) scale(1.054,1.000)" x="-3.67">o</text>
<text transform="translate(267.17,797.00) scale(1.069,1.000)" x="-3.68">n</text>
<text transform="translate(274.73,797.00) scale(0.951,1.000)" x="-3.25">s</text>
<text transform="translate(282.21,797.00) scale(1.069,1.000)" x="-3.66">u</text>
<text transform="translate(292.82,797.00) scale(1.130,1.000)" x="-5.50">m</text>
<text transform="translate(303.20,797.00) scale(1.071,1.000)" x="-3.66">e</text>
<text class="b" transform="translate(309.80,796.13) scale(0.838,0.948)" x="-2.57">(</text>
<text class="b" transform="translate(314.83,796.13) scale(0.838,0.948)" x="-1.83">)</text>
<text transform="translate(251.17,812.00) scale(0.927,1.000)" x="-3.25">s</text>
<text transform="translate(258.39,812.00) scale(1.044,1.000)" x="-3.66">e</text>
<text transform="translate(264.83,812.00) scale(1.292,1.000)" x="-1.89">t</text>
<text transform="translate(272.33,812.00) scale(0.956,1.000)" x="-5.13">O</text>
<text transform="translate(281.36,812.00) scale(1.042,1.000)" x="-3.66">u</text>
<text transform="translate(287.96,812.00) scale(1.292,1.000)" x="-1.89">t</text>
<text transform="translate(294.72,812.00) scale(1.052,1.000)" x="-3.82">p</text>
<text transform="translate(302.54,812.00) scale(1.042,1.000)" x="-3.66">u</text>
<text transform="translate(309.15,812.00) scale(1.292,1.000)" x="-1.89">t</text>
<text transform="translate(315.55,812.00) scale(0.829,1.000)" x="-4.31">F</text>
<text transform="translate(321.24,812.00) scale(1.238,1.000)" x="-2.53">r</text>
<text transform="translate(326.94,812.00) scale(1.044,1.000)" x="-3.66">e</text>
<text transform="translate(334.68,812.00) scale(1.049,1.000)" x="-3.53">q</text>
<text transform="translate(342.96,812.00) scale(1.042,1.000)" x="-3.66">u</text>
<text transform="translate(350.98,812.00) scale(1.044,1.000)" x="-3.66">e</text>
<text transform="translate(358.97,812.00) scale(1.042,1.000)" x="-3.68">n</text>
<text transform="translate(366.44,812.00) scale(0.970,1.000)" x="-3.41">c</text>
<text transform="translate(373.77,812.00) scale(1.038,1.000)" x="-3.30">y</text>
<text class="b" transform="translate(380.07,811.16) scale(0.817,0.924)" x="-2.57">(</text>
<text class="b" transform="translate(384.97,811.16) scale(0.817,0.924)" x="-1.83">)</text>
<text transform="translate(251.64,827.00) scale(1.057,1.000)" x="-3.52">g</text>
<text transform="translate(259.90,827.00) scale(1.050,1.000)" x="-3.66">e</text>
<text transform="translate(266.37,827.00) scale(1.299,1.000)" x="-1.89">t</text>
<text transform="translate(273.69,827.00) scale(0.967,1.000)" x="-4.77">H</text>
<text transform="translate(282.24,827.00) scale(0.874,1.000)" x="-3.95">a</text>
<text transform="translate(289.59,827.00) scale(1.245,1.000)" x="-2.53">r</text>
<text transform="translate(295.27,827.00) scale(1.057,1.000)" x="-3.52">d</text>
<text transform="translate(301.46,827.00) scale(1.028,1.000)" x="-1.83">I</text>
<text transform="translate(306.57,827.00) scale(1.245,1.000)" x="-2.53">r</text>
<text transform="translate(312.27,827.00) scale(1.033,1.000)" x="-3.67">o</text>
<text transform="translate(320.30,827.00) scale(1.048,1.000)" x="-3.68">n</text>
<text transform="translate(328.28,827.00) scale(0.833,1.000)" x="-4.31">F</text>
<text transform="translate(334.27,827.00) scale(0.874,1.000)" x="-3.95">a</text>
<text transform="translate(341.88,827.00) scale(0.975,1.000)" x="-3.41">c</text>
<text transform="translate(347.98,827.00) scale(1.299,1.000)" x="-1.89">t</text>
<text transform="translate(354.41,827.00) scale(1.033,1.000)" x="-3.67">o</text>
<text transform="translate(361.55,827.00) scale(1.245,1.000)" x="-2.53">r</text>
<text transform="translate(366.98,827.00) scale(0.932,1.000)" x="-3.25">s</text>
<text class="b" transform="translate(372.83,826.15) scale(0.822,0.929)" x="-2.57">(</text>
<text class="b" transform="translate(377.76,826.15) scale(0.822,0.929)" x="-1.83">)</text>
<text transform="translate(251.20,841.00) scale(0.937,1.000)" x="-3.25">s</text>
<text transform="translate(258.51,841.00) scale(1.056,1.000)" x="-3.66">e</text>
<text transform="translate(265.01,841.00) scale(1.307,1.000)" x="-1.89">t</text>
<text transform="translate(272.38,841.00) scale(0.973,1.000)" x="-4.77">H</text>
<text transform="translate(280.98,841.00) scale(0.879,1.000)" x="-3.95">a</text>
<text transform="translate(288.38,841.00) scale(1.253,1.000)" x="-2.53">r</text>
<text transform="translate(294.08,841.00) scale(1.063,1.000)" x="-3.52">d</text>
<text transform="translate(300.31,841.00) scale(1.034,1.000)" x="-1.83">I</text>
<text transform="translate(305.45,841.00) scale(1.253,1.000)" x="-2.53">r</text>
<text transform="translate(311.19,841.00) scale(1.039,1.000)" x="-3.67">o</text>
<text transform="translate(319.26,841.00) scale(1.054,1.000)" x="-3.68">n</text>
<text transform="translate(327.28,841.00) scale(0.838,1.000)" x="-4.31">F</text>
<text transform="translate(333.31,841.00) scale(0.879,1.000)" x="-3.95">a</text>
<text transform="translate(340.96,841.00) scale(0.981,1.000)" x="-3.41">c</text>
<text transform="translate(347.10,841.00) scale(1.307,1.000)" x="-1.89">t</text>
<text transform="translate(353.56,841.00) scale(1.039,1.000)" x="-3.67">o</text>
<text transform="translate(360.75,841.00) scale(1.253,1.000)" x="-2.53">r</text>
<text transform="translate(366.21,841.00) scale(0.937,1.000)" x="-3.25">s</text>
<text class="b" transform="translate(372.09,840.15) scale(0.826,0.935)" x="-2.57">(</text>
<text class="b" transform="translate(377.05,840.15) scale(0.826,0.935)" x="-1.83">)</text>
<text transform="translate(251.64,856.00) scale(1.059,1.000)" x="-3.52">d</text>
<text transform="translate(259.92,856.00) scale(1.052,1.000)" x="-3.66">e</text>
<text transform="translate(267.36,856.00) scale(0.978,1.000)" x="-3.41">c</text>
<text transform="translate(274.88,856.00) scale(1.036,1.000)" x="-3.67">o</text>
<text transform="translate(282.66,856.00) scale(1.059,1.000)" x="-3.52">d</text>
<text transform="translate(290.94,856.00) scale(1.052,1.000)" x="-3.66">e</text>
<text transform="translate(299.95,856.00) scale(0.963,1.000)" x="-5.13">O</text>
<text transform="translate(309.05,856.00) scale(1.051,1.000)" x="-3.66">u</text>
<text transform="translate(315.70,856.00) scale(1.302,1.000)" x="-1.89">t</text>
<text transform="translate(322.52,856.00) scale(1.060,1.000)" x="-3.82">p</text>
<text transform="translate(330.40,856.00) scale(1.051,1.000)" x="-3.66">u</text>
<text transform="translate(337.06,856.00) scale(1.302,1.000)" x="-1.89">t</text>
<text transform="translate(344.76,856.00) scale(1.008,1.000)" x="-4.99">D</text>
<text transform="translate(353.21,856.00) scale(0.876,1.000)" x="-3.95">a</text>
<text transform="translate(359.89,856.00) scale(1.302,1.000)" x="-1.89">t</text>
<text transform="translate(366.13,856.00) scale(0.876,1.000)" x="-3.95">a</text>
<text class="b" transform="translate(372.82,855.15) scale(0.824,0.931)" x="-2.57">(</text>
<text class="b" transform="translate(377.76,855.15) scale(0.824,0.931)" x="-1.83">)</text>
<text transform="translate(251.59,871.00) scale(1.042,1.000)" x="-3.52">d</text>
<text transform="translate(259.74,871.00) scale(1.035,1.000)" x="-3.66">e</text>
<text transform="translate(267.06,871.00) scale(0.962,1.000)" x="-3.41">c</text>
<text transform="translate(274.45,871.00) scale(1.019,1.000)" x="-3.67">o</text>
<text transform="translate(282.11,871.00) scale(1.042,1.000)" x="-3.52">d</text>
<text transform="translate(290.26,871.00) scale(1.035,1.000)" x="-3.66">e</text>
<text transform="translate(299.12,871.00) scale(0.948,1.000)" x="-5.13">O</text>
<text transform="translate(308.07,871.00) scale(1.034,1.000)" x="-3.66">u</text>
<text transform="translate(314.62,871.00) scale(1.281,1.000)" x="-1.89">t</text>
<text transform="translate(321.33,871.00) scale(1.043,1.000)" x="-3.82">p</text>
<text transform="translate(329.09,871.00) scale(1.034,1.000)" x="-3.66">u</text>
<text transform="translate(335.63,871.00) scale(1.281,1.000)" x="-1.89">t</text>
<text transform="translate(342.93,871.00) scale(0.917,1.000)" x="-5.00">R</text>
<text transform="translate(350.29,871.00) scale(0.862,1.000)" x="-3.95">a</text>
<text transform="translate(359.54,871.00) scale(0.969,1.000)" x="-4.77">w</text>
<text class="b" transform="translate(367.22,870.16) scale(0.810,0.916)" x="-2.57">(</text>
<text class="b" transform="translate(372.08,870.16) scale(0.810,0.916)" x="-1.83">)</text>
<text transform="translate(251.65,885.00) scale(1.063,1.000)" x="-3.52">d</text>
<text transform="translate(259.96,885.00) scale(1.056,1.000)" x="-3.66">e</text>
<text transform="translate(267.42,885.00) scale(0.981,1.000)" x="-3.41">c</text>
<text transform="translate(274.96,885.00) scale(1.039,1.000)" x="-3.67">o</text>
<text transform="translate(282.77,885.00) scale(1.063,1.000)" x="-3.52">d</text>
<text transform="translate(291.08,885.00) scale(1.056,1.000)" x="-3.66">e</text>
<text class="b" transform="translate(297.59,884.15) scale(0.826,0.935)" x="-2.57">(</text>
<text class="b" transform="translate(302.55,884.15) scale(0.826,0.935)" x="-1.83">)</text>
<text transform="translate(250.54,900.00) scale(1.237,1.000)" x="-2.53">r</text>
<text transform="translate(256.24,900.00) scale(1.043,1.000)" x="-3.66">e</text>
<text transform="translate(263.85,900.00) scale(0.868,1.000)" x="-3.95">a</text>
<text transform="translate(271.77,900.00) scale(1.049,1.000)" x="-3.52">d</text>
<text transform="translate(277.93,900.00) scale(1.021,1.000)" x="-1.83">I</text>
<text transform="translate(283.88,900.00) scale(1.041,1.000)" x="-3.68">n</text>
<text transform="translate(292.16,900.00) scale(1.051,1.000)" x="-3.82">p</text>
<text transform="translate(299.98,900.00) scale(1.041,1.000)" x="-3.66">u</text>
<text transform="translate(306.57,900.00) scale(1.291,1.000)" x="-1.89">t</text>
<text class="b" transform="translate(311.57,899.16) scale(0.816,0.923)" x="-2.57">(</text>
<text class="b" transform="translate(316.47,899.16) scale(0.816,0.923)" x="-1.83">)</text>
<text transform="translate(251.72,915.00) scale(1.033,1.000)" x="-3.67">o</text>
<text transform="translate(259.74,915.00) scale(1.048,1.000)" x="-3.68">n</text>
<text transform="translate(269.31,915.00) scale(0.969,1.000)" x="-5.50">M</text>
<text transform="translate(278.57,915.00) scale(0.874,1.000)" x="-3.95">a</text>
<text transform="translate(284.48,915.00) scale(0.993,1.000)" x="-1.46">i</text>
<text transform="translate(290.37,915.00) scale(1.048,1.000)" x="-3.68">n</text>
<text class="b" transform="translate(296.93,914.15) scale(0.821,0.929)" x="-2.57">(</text>
<text class="b" transform="translate(301.86,914.15) scale(0.821,0.929)" x="-1.83">)</text>
<text transform="translate(194.43,451.00) scale(1.139,1.000)" x="-5.50">m</text>
<text transform="translate(211.25,451.00) scale(0.899,1.000)" x="-3.95">a</text>
<text transform="translate(218.81,451.00) scale(1.281,1.000)" x="-2.53">r</text>
<text transform="translate(224.65,451.00) scale(1.087,1.000)" x="-3.52">g</text>
<text transform="translate(232.54,451.00) scale(0.958,1.000)" x="-3.25">s</text>
<text transform="translate(340.99,451.00) scale(1.130,1.000)" x="-5.50">m</text>
<text transform="translate(357.91,451.00) scale(1.071,1.000)" x="-3.66">e</text>
<text transform="translate(365.21,451.00) scale(1.270,1.000)" x="-2.53">r</text>
<text transform="translate(370.36,451.00) scale(1.270,1.000)" x="-2.53">r</text>
<text transform="translate(382.55,451.00) scale(0.995,1.000)" x="-3.41">c</text>
<text transform="translate(390.20,451.00) scale(1.054,1.000)" x="-3.67">o</text>
<text transform="translate(398.31,451.00) scale(1.069,1.000)" x="-3.66">u</text>
<text transform="translate(406.68,451.00) scale(1.069,1.000)" x="-3.68">n</text>
<text transform="translate(413.37,451.00) scale(1.325,1.000)" x="-1.89">t</text>
<text transform="translate(419.36,451.00) scale(0.950,1.000)" x="-3.25">s</text>
<text transform="translate(477.11,451.00) scale(1.117,1.000)" x="-5.50">m</text>
<text transform="translate(495.14,451.00) scale(0.991,1.000)" x="-4.77">w</text>
<text transform="translate(504.31,451.00) scale(1.065,1.000)" x="-3.52">d</text>
<text transform="translate(512.61,451.00) scale(1.042,1.000)" x="-3.67">o</text>
<text transform="translate(520.44,451.00) scale(1.065,1.000)" x="-3.52">g</text>
<text transform="translate(531.33,206.00) scale(1.256,1.000)" x="-3.86">&lt;</text>
<text transform="translate(544.67,206.00) scale(1.060,1.000)" x="-3.52">d</text>
<text transform="translate(552.93,206.00) scale(1.037,1.000)" x="-3.67">o</text>
<text transform="translate(560.90,206.00) scale(1.051,1.000)" x="-3.66">u</text>
<text transform="translate(569.34,206.00) scale(1.061,1.000)" x="-3.82">b</text>
<text transform="translate(574.98,206.00) scale(0.997,1.000)" x="-1.47">l</text>
<text transform="translate(580.74,206.00) scale(1.053,1.000)" x="-3.66">e</text>
<text transform="translate(594.17,206.00) scale(1.256,1.000)" x="-3.86">&gt;</text>
<path d="M437.10 68.50H445.90M441.50 64.10V72.90 M437.10 82.50H445.90M441.50 78.10V86.90 M437.10 97.50H445.90M441.50 93.10V101.90 M437.10 112.50H445.90M441.50 108.10V116.90 M437.10 126.50H445.90M441.50 122.10V130.90 M437.10 141.50H445.90M441.50 137.10V145.90 M437.10 156.50H445.90M441.50 152.10V160.90 M17.10 287.50H25.90M21.50 283.10V291.90 M17.10 302.50H25.90M21.50 298.10V306.90 M17.10 316.50H25.90M21.50 312.10V320.90 M17.10 331.50H25.90M21.50 327.10V335.90 M17.10 346.50H25.90M21.50 342.10V350.90 M17.10 360.50H25.90M21.50 356.10V364.90 M233.10 334.50H241.90M237.50 330.10V338.90 M233.10 349.50H241.90M237.50 345.10V353.90 M233.10 364.50H241.90M237.50 360.10V368.90 M455.10 312.50H463.90M459.50 308.10V316.90 M455.10 327.50H463.90M459.50 323.10V331.90 M455.10 342.50H463.90M459.50 338.10V346.90 M455.10 356.50H463.90M459.50 352.10V360.90 M455.10 371.50H463.90M459.50 367.10V375.90 M455.10 386.50H463.90M459.50 382.10V390.90 M455.10 400.50H463.90M459.50 396.10V404.90 M234.10 518.50H242.90M238.50 514.10V522.90 M234.10 532.50H242.90M238.50 528.10V536.90 M234.10 547.50H242.90M238.50 543.10V551.90 M234.10 562.50H242.90M238.50 558.10V566.90 M234.10 576.50H242.90M238.50 572.10V580.90 M234.10 591.50H242.90M238.50 587.10V595.90 M234.10 606.50H242.90M238.50 602.10V610.90 M234.10 620.50H242.90M238.50 616.10V624.90 M234.10 635.50H242.90M238.50 631.10V639.90 M234.10 650.50H242.90M238.50 646.10V654.90 M234.10 664.50H242.90M238.50 660.10V668.90 M234.10 679.50H242.90M238.50 675.10V683.90 M234.10 704.50H242.90M238.50 700.10V708.90 M234.10 719.50H242.90M238.50 715.10V723.90 M234.10 734.50H242.90M238.50 730.10V738.90 M234.10 748.50H242.90M238.50 744.10V752.90 M234.10 763.50H242.90M238.50 759.10V767.90 M234.10 778.50H242.90M238.50 774.10V782.90 M234.10 792.50H242.90M238.50 788.10V796.90 M234.10 807.50H242.90M238.50 803.10V811.90 M234.10 822.50H242.90M238.50 818.10V826.90 M234.10 836.50H242.90M238.50 832.10V840.90 M234.10 851.50H242.90M238.50 847.10V855.90 M234.10 866.50H242.90M238.50 862.10V870.90 M234.10 880.50H242.90M238.50 876.10V884.90 M234.10 895.50H242.90M238.50 891.10V899.90 M234.10 910.50H242.90M238.50 906.10V914.90 M178.10 446.50H186.90M182.50 442.10V450.90 M325.10 446.50H333.90M329.50 442.10V450.90 M461.10 446.50H469.90M465.50 442.10V450.90" stroke="#000" stroke-width="1.1" fill="none"/>
<path d="M57.04 294.58H63.72 M73.15 309.56H79.77 M54.12 323.56H60.74 M54.29 338.55H60.89 M59.95 353.59H66.65 M60.65 367.52H67.18 M259.99 525.64H266.82 M291.30 525.64H298.13 M260.12 539.67H267.03 M260.09 554.67H266.98 M292.19 554.67H299.08 M259.90 569.62H266.68 M291.49 569.62H298.27 M259.71 583.58H266.37 M260.21 598.69H267.18 M260.13 613.67H267.04 M259.90 627.62H266.68 M259.94 642.63H266.74 M260.01 657.65H266.86 M259.72 671.58H266.40 M259.89 686.62H266.67 M297.11 686.62H303.88 M200.69 453.65H207.54 M347.20 453.63H354.00 M372.33 453.63H379.13 M483.25 453.60H489.97" stroke="#000" stroke-width="1.0" fill="none"/>
</svg>
</body></html>
